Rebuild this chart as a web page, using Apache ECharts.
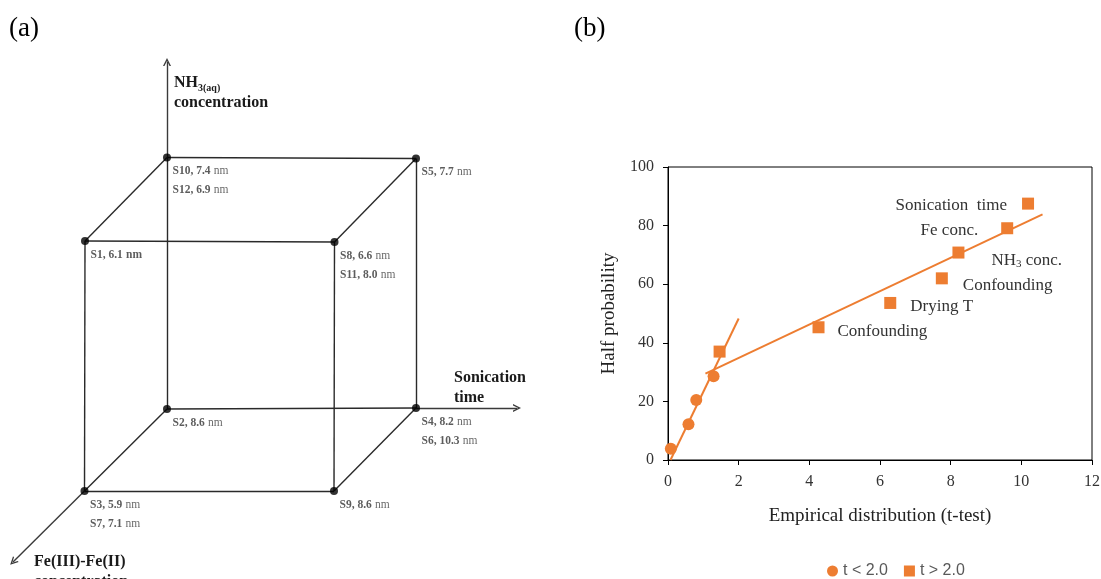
<!DOCTYPE html>
<html>
<head>
<meta charset="utf-8" />
<title>Cube design and half-normal plot</title>
<script src="https://cdn.jsdelivr.net/npm/echarts@6/dist/echarts.min.js"></script>
</head>
<body style="margin:0">
<div id="main" style="width:1101px;height:579px;background-color:white"></div>
<script type="text/javascript">
// ---- (a) cube sketch, positions on the sketch plane (x right, y down)
var cubeX = [167, 416, 85, 334.5, 167, 416, 84.5, 334];
var cubeY = [157.5, 158.5, 241, 242, 409, 408, 491, 491];
// text shown next to each corner
var cubeText = [
  ['S10, 7.4', 'S12, 6.9'],
  ['S5, 7.7'],
  ['S1, 6.1'],
  ['S8, 6.6', 'S11, 8.0'],
  ['S2, 8.6'],
  ['S4, 8.2', 'S6, 10.3'],
  ['S3, 5.9', 'S7, 7.1'],
  ['S9, 8.6']
];
var boldUnit = [false, false, true, false, false, false, false, false];
// cube edges as corner index pairs
var cubeEdges = [[0, 1], [1, 3], [3, 2], [2, 0], [4, 5], [5, 7], [7, 6], [6, 4], [0, 4], [1, 5], [3, 7], [2, 6]];
// the three factor axes continue from these corners to the arrow tips
var axisFrom = [0, 5, 6];
var axisTipX = [167, 517, 13];
var axisTipY = [62, 408, 562];

// ---- (b) half-normal plot
var lowT = [[0.08, 3.8], [0.58, 12.2], [0.80, 20.5], [1.29, 28.6]];
var highT = [[1.46, 37.0], [4.26, 45.3], [6.29, 53.6], [7.75, 62.0], [8.22, 70.8], [9.60, 79.1], [10.19, 87.5]];
var highNames = ['', 'Confounding', 'Drying T', 'Confounding', '{t|NH}{s|3}{t| conc.}', 'Fe conc.', 'Sonication  time'];
var steepFit = [[0.07, 0], [2.0, 48.3]];
var flatFit = [[1.06, 29.5], [10.6, 83.8]];

var myChart = echarts.init(document.getElementById('main'));

var orange = '#ED7D31';
var serif = '"Liberation Serif", "Times New Roman", serif';
// open arrow head, pointing up before rotation
var chevron = 'path://M0,10 L5,0 L10,10 L8.2,10 L5,3.6 L1.8,10 Z';

// where each factor name sits relative to its square
var namePlace = [
  null,
  { position: 'right', distance: 13, offset: [0, 4] },
  { position: 'right', distance: 14, offset: [0, 4] },
  { position: 'right', distance: 15, offset: [0, 7] },
  { position: 'right', distance: 27, offset: [0, 8] },
  { position: 'left', distance: 23, offset: [0, 2] },
  { position: 'left', distance: 15, offset: [0, 2] }
];

var cornerData = cubeX.map(function (x, i) {
  return { value: [x, cubeY[i]], lines: cubeText[i], bold: boldUnit[i] };
});
var edgeData = cubeEdges.map(function (e) {
  return { coords: [[cubeX[e[0]], cubeY[e[0]]], [cubeX[e[1]], cubeY[e[1]]]] };
});
var axisData = axisFrom.map(function (k, i) {
  return { coords: [[cubeX[k], cubeY[k]], [axisTipX[i], axisTipY[i]]] };
});

var highData = highT.map(function (p, i) {
  var d = { value: p };
  if (highNames[i]) {
    d.label = Object.assign({ show: true, formatter: highNames[i] }, namePlace[i]);
  }
  return d;
});

var option = {
  animation: false,
  backgroundColor: '#fff',
  grid: [
    { left: 0, top: 0, width: 550, height: 579, outerBoundsMode: 'none' },
    { left: 668, top: 167, width: 424, height: 293, show: true, borderColor: '#000', borderWidth: 1, outerBoundsMode: 'none' }
  ],
  xAxis: [
    { gridIndex: 0, type: 'value', min: 0, max: 550, show: false },
    {
      gridIndex: 1, type: 'value', min: 0, max: 12, interval: 2,
      axisLine: { show: true, lineStyle: { color: '#000', width: 1 } },
      axisTick: { show: true, inside: false, length: 5, lineStyle: { color: '#000' } },
      splitLine: { show: false },
      axisLabel: { fontFamily: serif, fontSize: 16, color: '#333', margin: 14 },
      name: 'Empirical distribution (t-test)',
      nameLocation: 'middle',
      nameGap: 47,
      nameTextStyle: { fontFamily: serif, fontSize: 19, color: '#222' }
    }
  ],
  yAxis: [
    { gridIndex: 0, type: 'value', min: 0, max: 579, inverse: true, show: false },
    {
      gridIndex: 1, type: 'value', min: 0, max: 100, interval: 20,
      axisLine: { show: true, lineStyle: { color: '#000', width: 1 } },
      axisTick: { show: true, inside: false, length: 5, lineStyle: { color: '#000' } },
      splitLine: { show: false },
      axisLabel: { fontFamily: serif, fontSize: 16, color: '#333', margin: 14 },
      name: 'Half probability',
      nameLocation: 'middle',
      nameGap: 49,
      nameTextStyle: { fontFamily: serif, fontSize: 19, color: '#222' }
    }
  ],
  legend: {
    data: ['t < 2.0', 't > 2.0'],
    left: 822,
    top: 558,
    itemWidth: 11,
    itemHeight: 11,
    itemGap: 16,
    textStyle: { fontFamily: '"Liberation Sans", sans-serif', fontSize: 16, color: '#595959' }
  },
  graphic: [
    { type: 'text', left: 9, top: 15, style: { text: '(a)', font: '27px ' + serif, fill: '#000' } },
    { type: 'text', left: 574, top: 15, style: { text: '(b)', font: '27px ' + serif, fill: '#000' } },
    {
      type: 'text', left: 174, top: 75,
      style: {
        text: '{b|NH}{s|3(aq)}\n{b|concentration}',
        fill: '#1a1a1a',
        rich: {
          b: { fontFamily: serif, fontWeight: 'bold', fontSize: 16, lineHeight: 20 },
          s: { fontFamily: serif, fontWeight: 'bold', fontSize: 10, lineHeight: 12, verticalAlign: 'bottom' }
        }
      }
    },
    {
      type: 'text', left: 454, top: 368,
      style: { text: 'Sonication\ntime', font: 'bold 16px ' + serif, lineHeight: 20, fill: '#1a1a1a' }
    },
    {
      type: 'text', left: 34, top: 552,
      style: { text: 'Fe(III)-Fe(II)\nconcentration', font: 'bold 16px ' + serif, lineHeight: 20, fill: '#1a1a1a' }
    }
  ],
  series: [
    {
      name: 'edges',
      type: 'lines',
      coordinateSystem: 'cartesian2d',
      xAxisIndex: 0,
      yAxisIndex: 0,
      silent: true,
      lineStyle: { color: '#2a2a2a', width: 1.4, opacity: 1 },
      data: edgeData
    },
    {
      name: 'factor axes',
      type: 'lines',
      coordinateSystem: 'cartesian2d',
      xAxisIndex: 0,
      yAxisIndex: 0,
      silent: true,
      symbol: ['none', chevron],
      symbolSize: [14, 8],
      lineStyle: { color: '#3a3a3a', width: 1.4, opacity: 1 },
      data: axisData
    },
    {
      name: 'corners',
      type: 'scatter',
      xAxisIndex: 0,
      yAxisIndex: 0,
      symbol: 'circle',
      symbolSize: 8,
      itemStyle: { color: '#000' },
      silent: true,
      label: {
        show: true,
        position: [9.5, 8.2],
        align: 'left',
        verticalAlign: 'top',
        formatter: function (p) {
          var d = cornerData[p.dataIndex];
          return d.lines.map(function (s) {
            return '{b|' + s + '} {' + (d.bold ? 'b' : 'n') + '|nm}';
          }).join('\n');
        },
        rich: {
          b: { fontFamily: serif, fontWeight: 'bold', fontSize: 11.5, color: '#333', lineHeight: 19 },
          n: { fontFamily: serif, fontSize: 11.5, color: '#444', lineHeight: 19 }
        }
      },
      data: cornerData
    },
    {
      name: 'fit low',
      type: 'line',
      xAxisIndex: 1,
      yAxisIndex: 1,
      symbol: 'none',
      silent: true,
      lineStyle: { color: orange, width: 2 },
      data: steepFit
    },
    {
      name: 'fit high',
      type: 'line',
      xAxisIndex: 1,
      yAxisIndex: 1,
      symbol: 'none',
      silent: true,
      lineStyle: { color: orange, width: 2 },
      data: flatFit
    },
    {
      name: 't < 2.0',
      type: 'scatter',
      xAxisIndex: 1,
      yAxisIndex: 1,
      symbol: 'circle',
      symbolSize: 12,
      itemStyle: { color: orange, opacity: 1 },
      data: lowT
    },
    {
      name: 't > 2.0',
      type: 'scatter',
      xAxisIndex: 1,
      yAxisIndex: 1,
      symbol: 'rect',
      symbolSize: 12,
      itemStyle: { color: orange, opacity: 1 },
      label: {
        fontFamily: serif,
        fontSize: 17,
        color: '#333',
        rich: {
          t: { fontFamily: serif, fontSize: 17, color: '#333' },
          s: { fontFamily: serif, fontSize: 11, color: '#333', padding: [8, 0, 0, 0] }
        }
      },
      data: highData
    }
  ]
};

myChart.setOption(option);
</script>
</body>
</html>
